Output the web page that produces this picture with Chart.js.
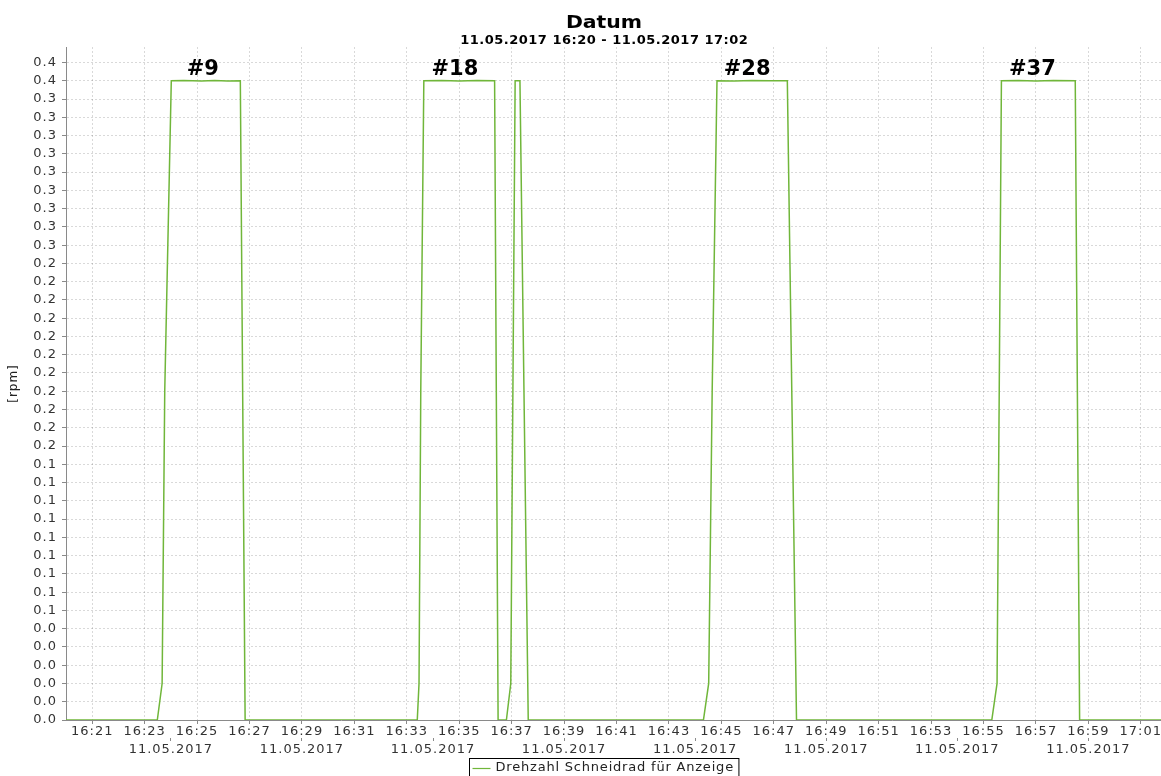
<!DOCTYPE html>
<html>
<head>
<meta charset="utf-8">
<title>Drehzahl Schneidrad</title>
<script src="https://cdn.jsdelivr.net/npm/chart.js@4.4.1/dist/chart.umd.min.js"></script>
<style>
  html, body { margin: 0; padding: 0; background: #ffffff; overflow: hidden; }
  #wrap { width: 1208px; height: 776px; }
  canvas { display: block; }
</style>
</head>
<body>
<div id="wrap"><canvas id="chart" width="1208" height="776"></canvas></div>
<script>
// Titles and series name
const chartTitle = 'Datum';
const chartSubtitle = '11.05.2017 16:20 - 11.05.2017 17:02';
const seriesLabel = 'Drehzahl Schneidrad für Anzeige';
const yAxisTitle = '[rpm]';
const startTime = '16:20:00';
const endTime = '17:02:00';

// Samples of the cutting wheel speed (time of day, rpm)
const sampleTimes = [
  '16:20:00', '16:23:29', '16:23:40', '16:23:46', '16:24:01', '16:24:30', '16:25:10', '16:25:40', '16:26:10', '16:26:39', '16:26:50',
  '16:33:24', '16:33:28', '16:33:32', '16:33:39', '16:34:20', '16:35:00', '16:35:40', '16:36:21', '16:36:29',
  '16:36:48', '16:36:58', '16:37:08', '16:37:19', '16:37:38',
  '16:44:19', '16:44:31', '16:44:39', '16:44:50', '16:45:30', '16:46:10', '16:46:50', '16:47:31', '16:47:52',
  '16:55:19', '16:55:31', '16:55:36', '16:55:41', '16:56:20', '16:57:00', '16:57:40', '16:58:30', '16:58:40', '17:02:00'
];
const sampleValues = [
  0, 0, 0.02, 0.18, 0.35, 0.3502, 0.3499, 0.3502, 0.3499, 0.35, 0,
  0, 0.02, 0.18, 0.35, 0.3501, 0.3499, 0.3502, 0.35, 0,
  0, 0.02, 0.35, 0.35, 0,
  0, 0.02, 0.18, 0.35, 0.3499, 0.3502, 0.35, 0.35, 0,
  0, 0.02, 0.18, 0.35, 0.3501, 0.3499, 0.3501, 0.35, 0, 0
];

// Cycle markers written above the plateaus
const cycleLabels = ['#9', '#18', '#28', '#37'];
const cycleLabelTimes = ['16:25:13', '16:34:50', '16:45:59', '16:56:52'];
const cycleLabelLevel = 0.35;

// Axis ticks
const timeTickLabels = ['16:21', '16:23', '16:25', '16:27', '16:29', '16:31', '16:33', '16:35', '16:37', '16:39', '16:41',
  '16:43', '16:45', '16:47', '16:49', '16:51', '16:53', '16:55', '16:57', '16:59', '17:01'];
const dateTickTimes = ['16:24', '16:29', '16:34', '16:39', '16:44', '16:49', '16:54', '16:59'];
const dateTickLabel = '11.05.2017';
const yTickStep = 0.01;
const yTickLabels = [
  '0.0', '0.0', '0.0', '0.0', '0.0', '0.0',
  '0.1', '0.1', '0.1', '0.1', '0.1', '0.1', '0.1', '0.1', '0.1',
  '0.2', '0.2', '0.2', '0.2', '0.2', '0.2', '0.2', '0.2', '0.2', '0.2', '0.2',
  '0.3', '0.3', '0.3', '0.3', '0.3', '0.3', '0.3', '0.3', '0.3',
  '0.4', '0.4'
];
const yMax = 0.3685;

// minutes elapsed since the start of the window
function toMinutes(t) {
  const p = t.split(':').map(Number);
  const m = p[0] * 60 + p[1] + (p[2] || 0) / 60;
  const s = startTime.split(':').map(Number);
  return m - (s[0] * 60 + s[1] + (s[2] || 0) / 60);
}

const points = sampleTimes.map((t, i) => ({ x: toMinutes(t), y: sampleValues[i] }));
const timeTickValues = timeTickLabels.map(toMinutes);
const dateTickValues = dateTickTimes.map(toMinutes);
const yTickValues = yTickLabels.map((_, i) => +(i * yTickStep).toFixed(4));

const FONT = 'DejaVu Sans';
Chart.defaults.font.family = FONT;
Chart.defaults.color = '#333333';

const gridColor = 'rgba(0,0,0,0.15)';
const axisColor = '#8a8a8a';
const lineColor = '#70b63a';

// wider tracking for axis text
const spacingPlugin = {
  id: 'tickSpacing',
  beforeDraw(chart) {
    chart.ctx.letterSpacing = '1px';
  }
};

const headerPlugin = {
  id: 'header',
  afterDraw(chart) {
    const { ctx } = chart;
    const cx = chart.width / 2;
    ctx.save();
    ctx.fillStyle = '#000000';
    ctx.textAlign = 'center';
    ctx.textBaseline = 'alphabetic';
    ctx.letterSpacing = '0px';
    // heading set in a broad bold face
    ctx.save();
    ctx.translate(cx, 27.5);
    ctx.scale(1.2, 1);
    ctx.font = 'bold 17px "' + FONT + '"';
    ctx.fillText(chartTitle, 0, 0);
    ctx.restore();
    ctx.letterSpacing = '0.5px';
    ctx.font = 'bold 13px "' + FONT + '"';
    ctx.fillText(chartSubtitle, cx + 0.25, 44);
    ctx.restore();
  }
};

const cycleLabelPlugin = {
  id: 'cycleLabels',
  afterDatasetsDraw(chart) {
    const { ctx, scales } = chart;
    ctx.save();
    ctx.letterSpacing = '0px';
    ctx.font = 'bold 21px "' + FONT + '"';
    ctx.fillStyle = '#000000';
    ctx.textAlign = 'center';
    ctx.textBaseline = 'alphabetic';
    cycleLabels.forEach((txt, i) => {
      const x = scales.x.getPixelForValue(toMinutes(cycleLabelTimes[i]));
      const y = scales.y.getPixelForValue(cycleLabelLevel) - 5.5;
      ctx.fillText(txt, x, y);
    });
    ctx.restore();
  }
};

const boxedLegendPlugin = {
  id: 'boxedLegend',
  afterDraw(chart) {
    const { ctx } = chart;
    const ds = chart.data.datasets[0];
    ctx.save();
    ctx.letterSpacing = '0.8px';
    ctx.font = '13px "' + FONT + '"';
    const tw = ctx.measureText(ds.label).width;
    const sample = 18;
    const w = 3 + sample + 5 + tw + 5;
    const h = 18;
    const cx = chart.width / 2;
    const x0 = Math.round(cx - w / 2) + 0.5;
    const y0 = 758.5;
    ctx.fillStyle = '#ffffff';
    ctx.fillRect(x0, y0, w, h);
    ctx.strokeStyle = '#000000';
    ctx.lineWidth = 1;
    ctx.strokeRect(x0, y0, w, h);
    ctx.strokeStyle = ds.borderColor;
    ctx.lineWidth = 1.2;
    ctx.beginPath();
    ctx.moveTo(x0 + 3, y0 + 10);
    ctx.lineTo(x0 + 3 + sample, y0 + 10);
    ctx.stroke();
    ctx.fillStyle = '#222222';
    ctx.textAlign = 'left';
    ctx.textBaseline = 'middle';
    ctx.fillText(ds.label, x0 + 3 + sample + 5, y0 + h / 2 + 0.5);
    ctx.restore();
  }
};

new Chart(document.getElementById('chart'), {
  type: 'line',
  data: {
    datasets: [{
      label: seriesLabel,
      data: points,
      borderColor: lineColor,
      backgroundColor: lineColor,
      borderWidth: 1.5,
      pointRadius: 0,
      tension: 0,
      fill: false
    }]
  },
  options: {
    responsive: false,
    animation: false,
    devicePixelRatio: 1,
    layout: { padding: { top: 47, right: 41, bottom: 20, left: 0 } },
    plugins: {
      legend: { display: false },
      tooltip: { enabled: false },
      title: { display: false },
      subtitle: { display: false }
    },
    scales: {
      x: {
        type: 'linear',
        position: 'bottom',
        min: toMinutes(startTime),
        max: toMinutes(endTime),
        afterBuildTicks: s => { s.ticks = timeTickValues.map(v => ({ value: v })); },
        afterFit: s => { s.height = 18; },
        ticks: {
          autoSkip: false,
          maxRotation: 0,
          padding: 0,
          font: { size: 13 },
          color: '#333333',
          callback: (v, i) => timeTickLabels[i]
        },
        grid: { color: gridColor, tickColor: axisColor, tickLength: 4, lineWidth: 1 },
        border: { color: axisColor, dash: [2, 2] }
      },
      x2: {
        type: 'linear',
        position: 'bottom',
        min: toMinutes(startTime),
        max: toMinutes(endTime),
        afterBuildTicks: s => { s.ticks = dateTickValues.map(v => ({ value: v })); },
        afterFit: s => { s.height = 18; },
        ticks: {
          autoSkip: false,
          maxRotation: 0,
          padding: 1,
          font: { size: 13 },
          color: '#333333',
          callback: () => dateTickLabel
        },
        grid: { drawOnChartArea: false, tickColor: axisColor, tickLength: 3 },
        border: { display: false }
      },
      y: {
        type: 'linear',
        min: 0,
        max: yMax,
        afterBuildTicks: s => { s.ticks = yTickValues.map(v => ({ value: v })); },
        afterFit: s => { s.width = 66; },
        ticks: {
          autoSkip: false,
          padding: 5,
          font: { size: 13 },
          color: '#333333',
          callback: (v, i) => yTickLabels[i]
        },
        grid: { color: gridColor, tickColor: axisColor, tickLength: 4, lineWidth: 1 },
        border: { color: axisColor, dash: [2, 2] },
        title: {
          display: true,
          text: yAxisTitle,
          color: '#222222',
          font: { size: 12 },
          padding: { top: 7, bottom: 0 }
        }
      }
    }
  },
  plugins: [spacingPlugin, headerPlugin, cycleLabelPlugin, boxedLegendPlugin]
});
</script>
</body>
</html>
